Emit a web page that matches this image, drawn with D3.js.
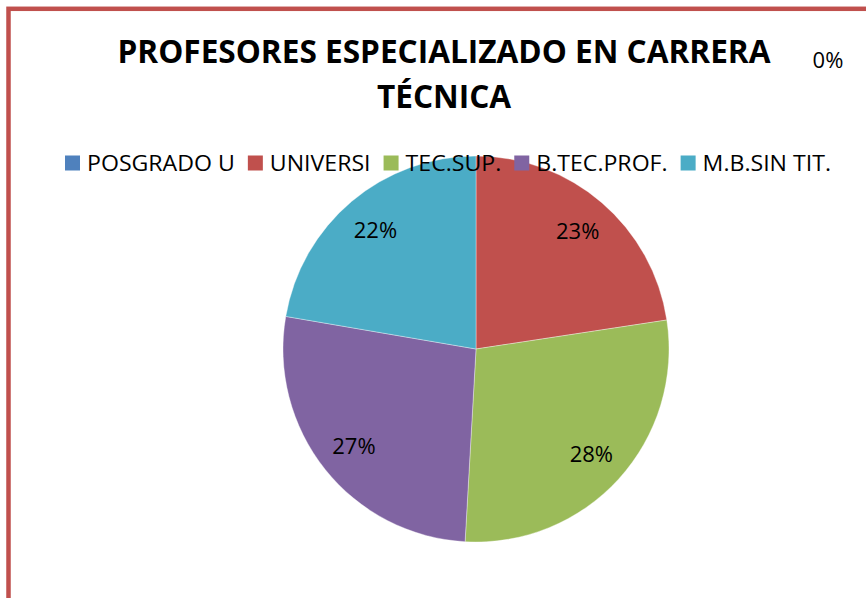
<!DOCTYPE html>
<html>
<head>
<meta charset="utf-8">
<script src="https://cdn.jsdelivr.net/npm/d3@7"></script>
<style>
  html, body { margin: 0; padding: 0; background: #fff; overflow: hidden; }
  svg { display: block; font-family: "Open Sans", "DejaVu Sans", sans-serif; }
</style>
</head>
<body>
<svg id="chart" width="866" height="598"></svg>
<script>
'use strict';

// Data (share of teachers, %).
var categories = ["POSGRADO U", "UNIVERSI", "TEC.SUP.", "B.TEC.PROF.", "M.B.SIN TIT."];
var values = [0, 22.6, 28.3, 26.8, 22.3];
var colors = ["#4F81BD", "#C0504D", "#9BBB59", "#8064A2", "#4BACC6"];
var titleLines = ["PROFESORES ESPECIALIZADO EN CARRERA", "TÉCNICA"];

var WIDTH = 866;
var HEIGHT = 598;

var svg = d3.select("#chart");

// Chart frame (red border, cut off at right and bottom)
svg.append("rect")
    .attr("x", 8.5)
    .attr("y", 8.8)
    .attr("width", WIDTH + 20)
    .attr("height", HEIGHT + 20)
    .style("fill", "white")
    .style("stroke", "#C0504D")
    .style("stroke-width", 4.5);

// Pie
var cx = 476, cy = 349, radius = 193, labelRadius = 156;
var total = d3.sum(values);
var data = categories.map(function (c, i) { return { name: c, value: values[i], color: colors[i] }; });

var pie = d3.pie().sort(null).value(function (d) { return d.value; });
var arc = d3.arc().innerRadius(0).outerRadius(radius);
var labelArc = d3.arc().innerRadius(labelRadius).outerRadius(labelRadius);
var arcs = pie(data);

var g = svg.append("g").attr("transform", "translate(" + cx + "," + cy + ")");

g.selectAll("path.slice")
    .data(arcs)
    .enter().append("path")
    .attr("class", "slice")
    .attr("d", arc)
    .style("fill", function (d) { return d.data.color; })
    .style("stroke", "#ffffff")
    .style("stroke-width", 0.6)
    .style("stroke-opacity", 0.6);

var pct = function (v) { return Math.round(v / total * 100) + "%"; };

g.selectAll("text.lbl")
    .data(arcs.filter(function (d) { return d.data.value > 0; }))
    .enter().append("text")
    .attr("class", "lbl")
    .attr("transform", function (d) { return "translate(" + labelArc.centroid(d) + ")"; })
    .attr("text-anchor", "middle")
    .attr("dy", "0.36em")
    .attr("font-size", 22)
    .style("fill", "#000")
    .text(function (d) { return pct(d.data.value); });

// zero-value label, placed by Excel off to the top right
arcs.filter(function (d) { return d.data.value === 0; }).forEach(function (d) {
    svg.append("text")
        .attr("x", 828)
        .attr("y", 68)
        .attr("text-anchor", "middle")
        .attr("font-size", 22)
        .style("fill", "#000")
        .text(pct(d.data.value));
});

// Title
var titleWidth = 653;
var title = svg.append("g");
var tk = 1;
titleLines.forEach(function (line, i) {
    var t = title.append("text")
        .attr("x", 444)
        .attr("y", 63 + i * 45)
        .attr("text-anchor", "middle")
        .attr("font-size", 33)
        .attr("font-weight", "bold")
        .style("fill", "#000")
        .text(line);
    if (i === 0) tk = titleWidth / t.node().getComputedTextLength();
});
title.selectAll("text").each(function () {
    d3.select(this)
        .attr("textLength", this.getComputedTextLength() * tk)
        .attr("lengthAdjust", "spacingAndGlyphs");
});

// Legend
var legendLeft = 65, legendRight = 831, legendY = 163;
var box = 15, boxGap = 7, itemGap = 13;
var legend = svg.append("g");
var items = legend.selectAll("g.item")
    .data(data)
    .enter().append("g")
    .attr("class", "item");
items.append("rect")
    .attr("width", box)
    .attr("height", box)
    .attr("y", legendY - box / 2)
    .style("fill", function (d) { return d.color; });
items.append("text")
    .attr("y", legendY)
    .attr("dy", "0.36em")
    .attr("font-size", 22)
    .style("fill", "#000")
    .text(function (d) { return d.name; });

var widths = [];
items.select("text").each(function () { widths.push(this.getComputedTextLength()); });
var fixedSpace = data.length * (box + boxGap) + (data.length - 1) * itemGap;
var scaleK = (legendRight - legendLeft - fixedSpace) / d3.sum(widths);
var xpos = legendLeft;
items.each(function (d, i) {
    var it = d3.select(this);
    var w = widths[i] * scaleK;
    it.select("rect").attr("x", xpos);
    it.select("text")
        .attr("x", xpos + box + boxGap)
        .attr("textLength", w)
        .attr("lengthAdjust", "spacingAndGlyphs");
    xpos += box + boxGap + w + itemGap;
});
</script>
</body>
</html>
